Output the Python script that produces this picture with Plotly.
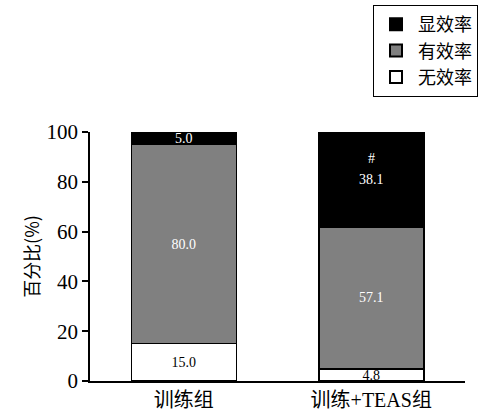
import plotly.graph_objects as go

# Groups and response-rate breakdown (%)
groups = ["训练组", "训练+TEAS组"]
series_names = ["无效率", "有效率", "显效率"]
invalid = [15.0, 4.8]
effective = [80.0, 57.1]
marked = [5.0, 38.1]
y_ticks = [0, 20, 40, 60, 80, 100]

SERIF = "Liberation Serif, Noto Sans CJK SC, serif"

series = [
    (series_names[0], invalid, "#ffffff", "#000000"),
    (series_names[1], effective, "#808080", "#ffffff"),
    (series_names[2], marked, "#000000", "#ffffff"),
]

fig = go.Figure()
for name, vals, color, txtcolor in series:
    fig.add_trace(go.Bar(
        x=groups, y=vals, name=name,
        marker=dict(color=color, line=dict(color="#000000", width=1.5)),
        width=0.56,
        text=[f"{v:.1f}" for v in vals],
        textposition="inside", insidetextanchor="middle", textangle=0,
        textfont=dict(family=SERIF, size=14, color=txtcolor),
        cliponaxis=False,
    ))

# significance mark above the marked-effect value of the TEAS group
top_base = invalid[1] + effective[1]
fig.add_annotation(
    x=groups[1], y=top_base + marked[1] * 0.72, text="#", showarrow=False,
    font=dict(family=SERIF, size=14, color="#ffffff"),
)

fig.update_layout(
    barmode="stack",
    width=495, height=418,
    margin=dict(l=90, r=30, t=132, b=37, autoexpand=False),
    paper_bgcolor="#ffffff", plot_bgcolor="#ffffff",
    uniformtext=dict(mode="show", minsize=14),
    legend=dict(
        traceorder="reversed",
        xref="container", yref="container",
        x=373 / 495, y=0.988, xanchor="left", yanchor="top",
        bordercolor="#000000", borderwidth=1,
        font=dict(family="Noto Sans CJK SC", size=18, color="#000000"),
        itemsizing="constant", tracegroupgap=0, itemwidth=34,
    ),
    xaxis=dict(
        range=[-0.5, 1.5],
        showline=True, linecolor="#000000", linewidth=1.5,
        ticks="", showgrid=False,
        tickfont=dict(family=SERIF, size=20, color="#000000"),
    ),
    yaxis=dict(
        range=[0, 100], tickvals=y_ticks,
        showline=True, linecolor="#000000", linewidth=1.5,
        ticks="outside", ticklen=6, tickwidth=1.5, tickcolor="#000000",
        showgrid=False, zeroline=False,
        tickfont=dict(family="Liberation Serif", size=21, color="#000000"),
        title=dict(text="百分比(%)", font=dict(family="Noto Sans CJK SC", size=18, color="#000000"), standoff=2),
    ),
)

fig.write_html("out.html")
